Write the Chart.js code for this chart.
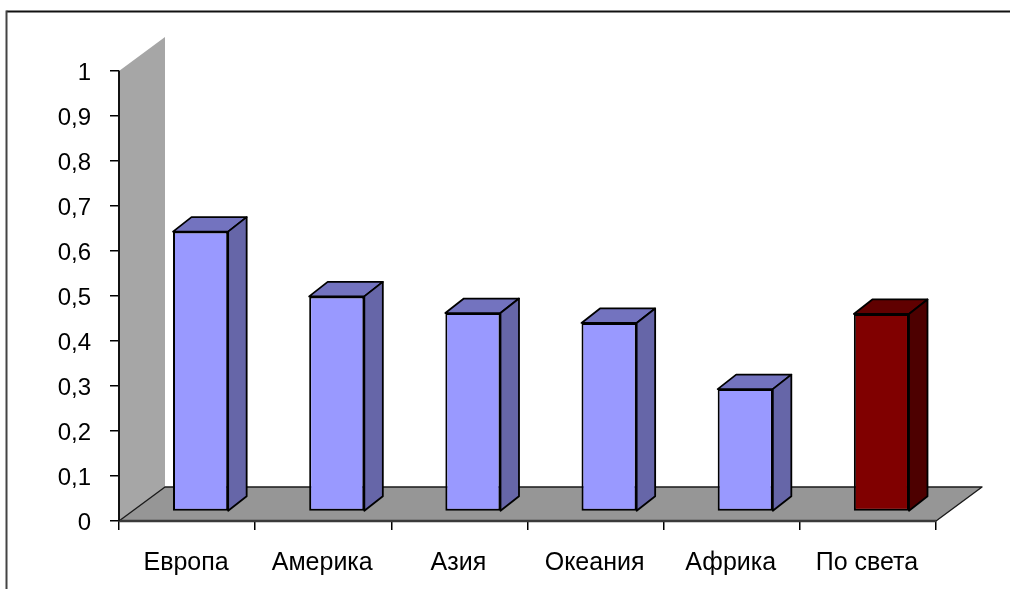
<!DOCTYPE html>
<html><head><meta charset="utf-8">
<style>html,body{margin:0;padding:0;background:#fff}canvas{display:block}#w{width:1010px;height:589px;position:relative}</style>
<script src="https://cdn.jsdelivr.net/npm/chart.js@4"></script></head>
<body><div id="w"><canvas id="c"></canvas></div>
<script>
const categories = ['Европа','Америка','Азия','Океания','Африка','По света'];
const values = [0.622, 0.478, 0.441, 0.419, 0.272, 0.439];
const tickLabels = ['0','0,1','0,2','0,3','0,4','0,5','0,6','0,7','0,8','0,9','1'];
const frontColors = ['#9999ff','#9999ff','#9999ff','#9999ff','#9999ff','#800000'];
const topColors = ['#7373bf','#7373bf','#7373bf','#7373bf','#7373bf','#600000'];
const sideColors = ['#6666a8','#6666a8','#6666a8','#6666a8','#6666a8','#4d0000'];
const DX = 46, DY = 34, BDX = 18.5, BDY = 14.5, SHIFT_X = 13.5, SHIFT_Y = -9.5;

function poly(ctx, pts, fill, stroke, w) {
  ctx.beginPath();
  pts.forEach((p, i) => i ? ctx.lineTo(p[0], p[1]) : ctx.moveTo(p[0], p[1]));
  ctx.closePath();
  if (fill) { ctx.fillStyle = fill; ctx.fill(); }
  if (stroke) { ctx.strokeStyle = stroke; ctx.lineWidth = w || 1; ctx.lineJoin = 'round'; ctx.stroke(); }
}
function shiftLabels(scale, dx, dy) {
  if (scale._shifted) return;
  scale._shifted = true;
  const orig = scale.drawLabels;
  scale.drawLabels = function (a) {
    this.ctx.save();
    this.ctx.translate(dx, dy);
    orig.call(this, a);
    this.ctx.restore();
  };
}
const frame3d = {
  id: 'frame3d',
  beforeDatasetsDraw(chart) {
    const { ctx, chartArea: a } = chart;
    ctx.save();
    poly(ctx, [[a.left,a.top],[a.left+DX,a.top-DY],[a.left+DX,a.bottom-DY],[a.left,a.bottom]], '#a6a6a6');
    poly(ctx, [[a.left,a.bottom],[a.left+DX,a.bottom-DY],[a.right+DX,a.bottom-DY],[a.right,a.bottom]], '#969696', '#1a1a1a', 1.4);
    ctx.beginPath(); ctx.moveTo(a.left,a.bottom); ctx.lineTo(a.right,a.bottom); ctx.lineWidth=2.5; ctx.strokeStyle='#3a3a3a'; ctx.stroke();
    ctx.beginPath(); ctx.moveTo(a.left,a.top); ctx.lineTo(a.left,a.bottom); ctx.lineWidth=2; ctx.strokeStyle='#111'; ctx.stroke();
    ctx.restore();
    ctx.save();
    ctx.translate(SHIFT_X, SHIFT_Y);
    chart.getDatasetMeta(0).data.forEach((bar, i) => {
      const p = bar.getProps(['x','y','base','width'], true);
      const r = p.x + p.width / 2, l = p.x - p.width / 2;
      poly(ctx, [[l,p.y],[l+BDX,p.y-BDY],[r+BDX,p.y-BDY],[r,p.y]], topColors[i], '#000', 1.8);
      poly(ctx, [[r,p.y],[r+BDX,p.y-BDY],[r+BDX,p.base-BDY],[r,p.base]], sideColors[i], '#000', 1.8);
    });
  },
  afterDatasetsDraw(chart) {
    chart.ctx.restore();
  },
  afterDraw(chart) {
    const { ctx, width, height } = chart;
    ctx.save();
    ctx.strokeStyle = '#111'; ctx.lineWidth = 2;
    ctx.beginPath(); ctx.moveTo(6.5, 11.5); ctx.lineTo(width, 11.5); ctx.stroke();
    ctx.strokeStyle = '#444';
    ctx.beginPath(); ctx.moveTo(6.5, height); ctx.lineTo(6.5, 10.5); ctx.stroke();
    ctx.restore();
  }
};
new Chart(document.getElementById('c'), {
  type: 'bar',
  data: { labels: categories, datasets: [{ data: values, backgroundColor: frontColors, borderColor: '#000', borderWidth: 2, borderSkipped: false, barPercentage: 0.405, categoryPercentage: 1 }] },
  options: {
    responsive: true, maintainAspectRatio: false, animation: false,
    layout: { padding: { left: 0, top: 71, right: 74, bottom: 0 } },
    plugins: { legend: { display: false }, tooltip: { enabled: false } },
    scales: {
      x: { offset: true, afterFit(s){ s.height = 68; shiftLabels(s, -1, 0); },
        grid: { drawOnChartArea: false, tickLength: 9, color: '#000', lineWidth: 1.5 },
        border: { color: '#222', width: 1.5 },
        ticks: { color: '#000', font: { family: '"Liberation Sans"', size: 25 }, padding: 18, maxRotation: 0, autoSkip: false } },
      y: { min: 0, max: 1, afterFit(s){ s.width = 119; shiftLabels(s, 0, 2); },
        grid: { drawOnChartArea: false, tickLength: 9, color: '#000', lineWidth: 1.5 },
        border: { color: '#000', width: 1.5 },
        ticks: { stepSize: 0.1, color: '#000', padding: 19, font: { family: '"Liberation Sans"', size: 24 },
          callback(v, i) { return tickLabels[i]; } } }
    }
  },
  plugins: [frame3d]
});
</script></body></html>
